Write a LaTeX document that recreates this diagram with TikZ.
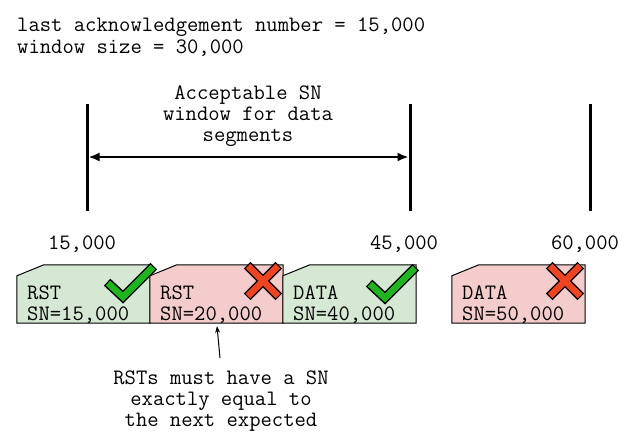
\documentclass[tikz,border=0pt]{standalone}
\usepackage{fontspec}
\usetikzlibrary{arrows.meta,calc}
\definecolor{gfill}{HTML}{D5E8D4}
\definecolor{rfill}{HTML}{F4CCCC}
\definecolor{ckgreen}{HTML}{1FB51F}
\definecolor{xred}{HTML}{EE4422}
\tikzset{
  mono/.style={font=\ttfamily\fontsize{22}{21}\selectfont, inner sep=0pt},
  boxnode/.style={minimum width=133pt, minimum height=58pt, inner sep=0pt},
  segout/.style={draw=black, line width=1pt},
  bar/.style={line width=3pt},
  chk/.pic={
    \draw[line width=9.5pt, black, line join=miter, shorten >=-1.2pt, shorten <=-1.2pt] (-15,-14) -- (0,0) -- (30,-30);
    \draw[line width=6.5pt, ckgreen, line join=miter] (-15,-14) -- (0,0) -- (30,-30);
  },
  xmk/.pic={
    \draw[line width=9.5pt, black, shorten >=-1.2pt, shorten <=-1.2pt] (-15,-15) -- (15,15);
    \draw[line width=9.5pt, black, shorten >=-1.2pt, shorten <=-1.2pt] (-15,15) -- (15,-15);
    \draw[line width=6.5pt, xred] (-15,-15) -- (15,15);
    \draw[line width=6.5pt, xred] (-15,15) -- (15,-15);
  }
}
\begin{document}
\begin{tikzpicture}[x=1pt,y=-1pt]
\useasboundingbox[fill=white] (0,0) rectangle (637,437);

% header text
\node[mono, anchor=base west] (h1) at (17,31) {last acknowledgement number = 15,000};
\node[mono, anchor=base west] (h2) at (17,53) {window size = 30,000};

% vertical bars
\coordinate (v1t) at (87,104); \coordinate (v1b) at (87,211);
\coordinate (v2t) at (410,104); \coordinate (v2b) at (410,211);
\coordinate (v3t) at (590,104); \coordinate (v3b) at (590,211);
\draw[bar] (v1t) -- (v1b);
\draw[bar] (v2t) -- (v2b);
\draw[bar] (v3t) -- (v3b);

% window arrow
\coordinate (a1) at (88.5,157);
\coordinate (a2) at (408.5,157);
\draw[line width=2pt, {Latex[length=11pt,width=9pt]}-{Latex[length=11pt,width=9pt]}] (a1) -- (a2);
\node[mono, align=center] (win) at (248,116) {Acceptable SN\\window for data\\segments};

% numbers
\node[mono, anchor=base] (n1) at (82,249) {15,000};
\node[mono, anchor=base] (n2) at (404,249) {45,000};
\node[mono, anchor=base] (n3) at (585,249) {60,000};

% boxes
\node[boxnode] (b1) at (83.5,294) {};
\node[boxnode] (b2) at (216.5,294) {};
\node[boxnode] (b3) at (349.5,294) {};
\node[boxnode] (b4) at (518.5,294) {};
\foreach \b/\c in {b1/gfill,b2/rfill,b3/gfill,b4/rfill}{
  \draw[segout, fill=\c] (\b.south west) -- (\b.south east) -- (\b.north east)
    -- ($(\b.north west)+(27,0)$) -- ($(\b.north west)+(0,11)$) -- cycle;
}

\node[mono, anchor=base west] (t1a) at (27,299) {RST};
\node[mono, anchor=base west] (t1b) at (27,320) {SN=15,000};
\node[mono, anchor=base west] (t2a) at (160,299) {RST};
\node[mono, anchor=base west] (t2b) at (160,320) {SN=20,000};
\node[mono, anchor=base west] (t3a) at (293,299) {DATA};
\node[mono, anchor=base west] (t3b) at (293,320) {SN=40,000};
\node[mono, anchor=base west] (t4a) at (462,299) {DATA};
\node[mono, anchor=base west] (t4b) at (462,320) {SN=50,000};

% marks
\pic at (123,297) {chk};
\pic at (263,281) {xmk};
\pic at (385,298) {chk};
\pic at (565,281) {xmk};

% note
\node[mono, align=center] (note) at (221,401) {RSTs must have a SN\\exactly equal to\\the next expected};
\coordinate (tail) at (220,358);
\coordinate (tip) at (217,326);
\draw[line width=1pt, -{Stealth[length=7pt,width=5pt]}] (tail) -- (tip);
\end{tikzpicture}
\end{document}
